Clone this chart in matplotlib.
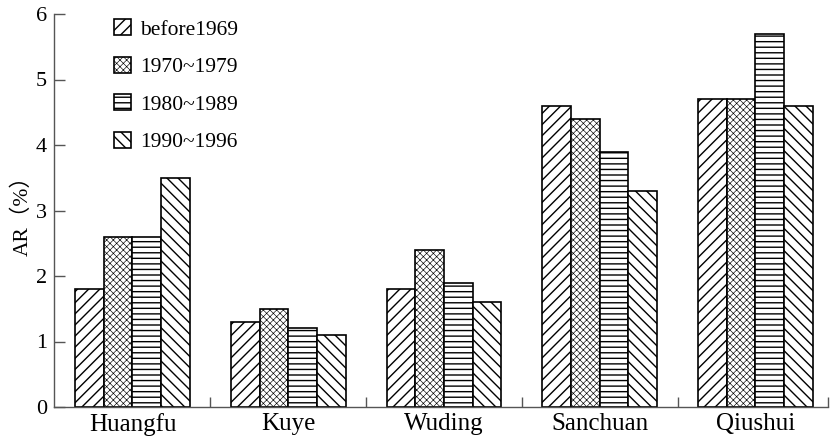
import numpy as np
import matplotlib
matplotlib.use("Agg")
import matplotlib.pyplot as plt

plt.rcParams["font.family"] = ["Liberation Serif", "Noto Sans CJK SC", "DejaVu Sans"]

rivers = ["Huangfu", "Kuye", "Wuding", "Sanchuan", "Qiushui"]
periods = ["before1969", "1970~1979", "1980~1989", "1990~1996"]
before1969 = [1.8, 1.3, 1.8, 4.6, 4.7]
p1970s = [2.6, 1.5, 2.4, 4.4, 4.7]
p1980s = [2.6, 1.2, 1.9, 3.9, 5.7]
p1990s = [3.5, 1.1, 1.6, 3.3, 4.6]
yticks = [0, 1, 2, 3, 4, 5, 6]

series = [before1969, p1970s, p1980s, p1990s]
hatches = ["///", "xxxxx", "---", "\\\\\\"]
hatch_lw = [1.0, 0.45, 1.0, 1.0]

fig = plt.figure(figsize=(8.38, 4.37), dpi=100)
ax = fig.add_axes([54 / 838, 30 / 437, (828 - 54) / 838, (407 - 14) / 437])

x = np.arange(len(rivers))
w = 0.184
for i, (vals, h, lw) in enumerate(zip(series, hatches, hatch_lw)):
    pos = x + (i - 1.5) * w
    bars = ax.bar(pos, vals, w, facecolor="white", edgecolor="black",
                  hatch=h, linewidth=1.2, label=periods[i])
    for b in bars:
        if hasattr(b, "set_hatch_linewidth"):
            b.set_hatch_linewidth(lw)

ax.set_xlim(-0.504, 4.466)
ax.set_ylim(0, 6)
ax.set_yticks(yticks)
ax.tick_params(axis="y", direction="in", length=8, width=1, labelsize=16,
               color="#555555", pad=5)
ax.set_xticks(x)
ax.set_xticklabels(rivers, fontsize=18)
ax.tick_params(axis="x", which="major", length=0, pad=4)
ax.set_xticks([0.5, 1.5, 2.5, 3.5, 4.466], minor=True)
ax.tick_params(axis="x", which="minor", direction="in", length=7,
               color="#555555", width=1)
for s in ["top", "right"]:
    ax.spines[s].set_visible(False)
for s in ["left", "bottom"]:
    ax.spines[s].set_color("#555555")
    ax.spines[s].set_linewidth(1)

ax.set_ylabel("AR（%）", fontsize=15.5, labelpad=2)

leg = ax.legend(loc="upper left", bbox_to_anchor=(114 / 838, 1 - 19 / 437),
                bbox_transform=fig.transFigure, frameon=False, fontsize=15.5,
                handlelength=0.8, handleheight=0.8, handletextpad=0.4,
                labelspacing=0.78, borderpad=0, borderaxespad=0)
for p, lw in zip(leg.get_patches(), hatch_lw):
    if hasattr(p, "set_hatch_linewidth"):
        p.set_hatch_linewidth(lw)

fig.savefig("out.png", dpi=100)
